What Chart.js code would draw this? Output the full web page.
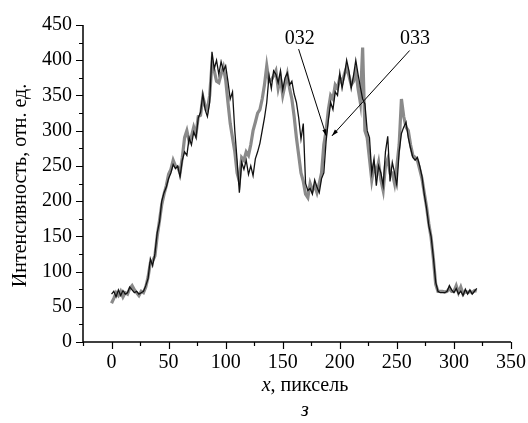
<!DOCTYPE html>
<html>
<head>
<meta charset="utf-8">
<script src="https://cdn.jsdelivr.net/npm/chart.js@4"></script>
<style>
  body { margin: 0; background: #fff; }
  canvas { display: block; }
</style>
</head>
<body>
<canvas id="chart" width="528" height="423"></canvas>
<script>
// x positions (pixels along the profile)
const xPixels = [
  0, 2, 4, 6, 8, 10, 12, 14, 16, 18,
  20, 22, 24, 26, 28, 30, 32, 34, 36, 38,
  40, 42, 44, 46, 48, 50, 52, 54, 56, 58,
  60, 62, 64, 66, 68, 70, 72, 74, 76, 78,
  80, 82, 84, 86, 88, 90, 92, 94, 96, 98,
  100, 102, 104, 106, 108, 110, 112, 114, 116, 118,
  120, 122, 124, 126, 128, 130, 132, 134, 136, 138,
  140, 142, 144, 146, 148, 150, 152, 154, 156, 158,
  160, 162, 164, 166, 168, 170, 172, 174, 176, 178,
  180, 182, 184, 186, 188, 190, 192, 194, 196, 198,
  200, 202, 204, 206, 208, 210, 212, 214, 216, 218,
  220, 222, 224, 226, 228, 230, 232, 234, 236, 238,
  240, 242, 244, 246, 248, 250, 252, 254, 256, 258,
  260, 262, 264, 266, 268, 270, 272, 274, 276, 278,
  280, 282, 284, 286, 288, 290, 292, 294, 296, 298,
  300, 302, 304, 306, 308, 310, 312, 314, 316, 318,
  320
];

// profile 032 (grey, thick)
const profile032 = [
  55, 62, 70, 66, 72, 64, 70, 68, 76, 80,
  74, 70, 66, 72, 70, 78, 92, 112, 115, 122,
  150, 172, 195, 210, 222, 238, 245, 258, 250, 248,
  240, 262, 290, 300, 285, 292, 305, 295, 320, 322,
  348, 335, 330, 350, 395, 385, 370, 368, 380, 390,
  372, 340, 310, 290, 270, 240, 228, 262, 258, 270,
  265, 280, 300, 312, 325, 330, 345, 365, 392, 370,
  372, 378, 385, 360, 375, 350, 365, 380, 360, 345,
  320, 290, 265, 240, 228, 210, 205, 225, 215, 222,
  212, 225, 240, 280, 300, 330, 350, 345, 365, 360,
  375, 368, 380, 390, 378, 365, 370, 385, 360, 340,
  418, 300, 290, 260, 230, 250, 240, 255, 230, 215,
  250, 260, 240, 240, 225, 250, 280, 345, 320, 305,
  300, 280, 265, 262, 258, 245, 232, 212, 192, 168,
  148, 118, 82, 72, 72, 72, 71, 72, 76, 72,
  72, 80, 70, 78, 68, 72, 70, 72, 70, 73,
  72
];

// profile 033 (black, thin)
const profile033 = [
  68, 72, 64, 74, 66, 73, 68, 70, 78, 74,
  70, 72, 68, 70, 72, 80, 90, 118, 108, 125,
  155, 170, 200, 212, 220, 232, 240, 252, 246, 250,
  234, 258, 270, 265, 290, 280, 298, 290, 318, 326,
  352, 330, 320, 340, 412, 388, 400, 380, 398, 385,
  392, 370, 345, 355, 300, 258, 212, 255, 245, 258,
  238, 250, 236, 260, 270, 282, 300, 318, 340, 378,
  360, 385, 380, 368, 385, 358, 375, 382, 365, 370,
  352, 340, 318, 288, 310, 225, 215, 218, 210, 230,
  220, 212, 232, 240, 285, 315, 340, 330, 355, 350,
  382, 360, 378, 400, 385, 360, 378, 400, 380, 362,
  345, 338, 300, 290, 240, 260, 222, 250, 240, 222,
  270, 292, 228, 255, 240, 222, 270, 296, 305, 312,
  290, 275, 262, 258, 262, 250, 235, 210, 190, 165,
  150, 120, 85, 72, 70, 70, 70, 72, 80, 74,
  70, 76, 68, 72, 66, 75, 68, 74, 68, 72,
  76
];

// curve labels: text, label point, arrow start, arrow tip (data units)
const curveLabels = [
  { text: "032", at: [164.8, 431], from: [163.9, 415.8], to: [188.2, 292.6] },
  { text: "033", at: [265.9, 431], from: [261.2, 413.8], to: [193.1, 292.6] },
];

const xTitleItalic = "x";
const xTitleRest = ", пиксель";
const yTitle = "Интенсивность, отн. ед.";
const panelLetter = "з";

const FONT = "'Liberation Serif', 'Times New Roman', serif";

function toPoints(ys) {
  return ys.map((y, i) => ({ x: xPixels[i], y: y }));
}

// axes lines, tick marks, titles and curve labels
const decorPlugin = {
  id: "decor",
  afterDraw(chart) {
    const ctx = chart.ctx;
    const xs = chart.scales.x;
    const ys = chart.scales.y;
    const area = chart.chartArea;
    ctx.save();
    ctx.strokeStyle = "#000";
    ctx.fillStyle = "#000";

    // axis lines
    ctx.lineWidth = 1.5;
    ctx.beginPath();
    ctx.moveTo(area.left, area.top);
    ctx.lineTo(area.left, area.bottom);
    ctx.lineTo(area.right, area.bottom);
    ctx.stroke();

    // ticks
    ctx.lineWidth = 1.2;
    ctx.beginPath();
    for (let v = -25; v <= 350; v += 25) {
      const px = Math.round(xs.getPixelForValue(v)) + 0.5;
      const len = v % 50 === 0 ? 7 : 4;
      ctx.moveTo(px, area.bottom);
      ctx.lineTo(px, area.bottom + len);
    }
    for (let v = 0; v <= 450; v += 25) {
      const py = Math.round(ys.getPixelForValue(v)) + 0.5;
      const len = v % 50 === 0 ? 7 : 4;
      ctx.moveTo(area.left, py);
      ctx.lineTo(area.left - len, py);
    }
    ctx.stroke();

    // y title
    ctx.font = "20px " + FONT;
    ctx.textAlign = "center";
    ctx.textBaseline = "middle";
    ctx.save();
    ctx.translate(21, (area.top + area.bottom) / 2 + 2);
    ctx.rotate(-Math.PI / 2);
    ctx.fillText(yTitle, 0, 0);
    ctx.restore();

    // x title, italic x
    ctx.textBaseline = "alphabetic";
    ctx.textAlign = "left";
    ctx.font = "italic 20px " + FONT;
    const wItalic = ctx.measureText(xTitleItalic).width;
    ctx.font = "20px " + FONT;
    const wRest = ctx.measureText(xTitleRest).width;
    const xStart = 305 - (wItalic + wRest) / 2;
    ctx.font = "italic 20px " + FONT;
    ctx.fillText(xTitleItalic, xStart, 391);
    ctx.font = "20px " + FONT;
    ctx.fillText(xTitleRest, xStart + wItalic, 391);

    // panel letter
    ctx.font = "italic 20px " + FONT;
    ctx.textAlign = "center";
    ctx.fillText(panelLetter, 305, 416);

    // curve labels with arrows
    ctx.font = "20px " + FONT;
    ctx.textBaseline = "middle";
    ctx.lineWidth = 1;
    curveLabels.forEach((c) => {
      ctx.fillText(c.text, xs.getPixelForValue(c.at[0]), ys.getPixelForValue(c.at[1]));
      const x1 = xs.getPixelForValue(c.from[0]);
      const y1 = ys.getPixelForValue(c.from[1]);
      const x2 = xs.getPixelForValue(c.to[0]);
      const y2 = ys.getPixelForValue(c.to[1]);
      ctx.beginPath();
      ctx.moveTo(x1, y1);
      ctx.lineTo(x2, y2);
      ctx.stroke();
      const ang = Math.atan2(y2 - y1, x2 - x1);
      ctx.beginPath();
      ctx.moveTo(x2, y2);
      ctx.lineTo(x2 - 7 * Math.cos(ang - 0.3), y2 - 7 * Math.sin(ang - 0.3));
      ctx.lineTo(x2 - 7 * Math.cos(ang + 0.3), y2 - 7 * Math.sin(ang + 0.3));
      ctx.closePath();
      ctx.fill();
    });

    ctx.restore();
  },
};

const ctx = document.getElementById("chart").getContext("2d");

new Chart(ctx, {
  type: "line",
  data: {
    datasets: [
      {
        label: "033",
        data: toPoints(profile033),
        borderColor: "#111111",
        borderWidth: 1.3,
        pointRadius: 0,
        tension: 0,
        order: 1,
      },
      {
        label: "032",
        data: toPoints(profile032),
        borderColor: "#8a8a8a",
        borderWidth: 3.2,
        pointRadius: 0,
        tension: 0,
        order: 2,
      },
    ],
  },
  options: {
    responsive: false,
    devicePixelRatio: 1,
    animation: false,
    layout: { padding: { top: 25, right: 17, left: 0, bottom: 0 } },
    plugins: {
      legend: { display: false },
      tooltip: { enabled: false },
    },
    scales: {
      x: {
        type: "linear",
        min: -25,
        max: 350,
        afterFit: (scale) => { scale.height = 81; },
        grid: { display: false, drawTicks: true, tickLength: 7 },
        border: { display: false },
        ticks: {
          stepSize: 25,
          autoSkip: false,
          maxRotation: 0,
          padding: 2,
          color: "#000",
          font: { family: FONT, size: 20 },
          callback: (v) => (v % 50 === 0 && v >= 0 ? v : ""),
        },
      },
      y: {
        min: 0,
        max: 450,
        afterFit: (scale) => { scale.width = 83; },
        grid: { display: false, drawTicks: true, tickLength: 7 },
        border: { display: false },
        ticks: {
          stepSize: 25,
          autoSkip: false,
          padding: 4,
          color: "#000",
          font: { family: FONT, size: 20 },
          callback: (v) => (v % 50 === 0 ? v : ""),
        },
      },
    },
  },
  plugins: [decorPlugin],
});
</script>
</body>
</html>
